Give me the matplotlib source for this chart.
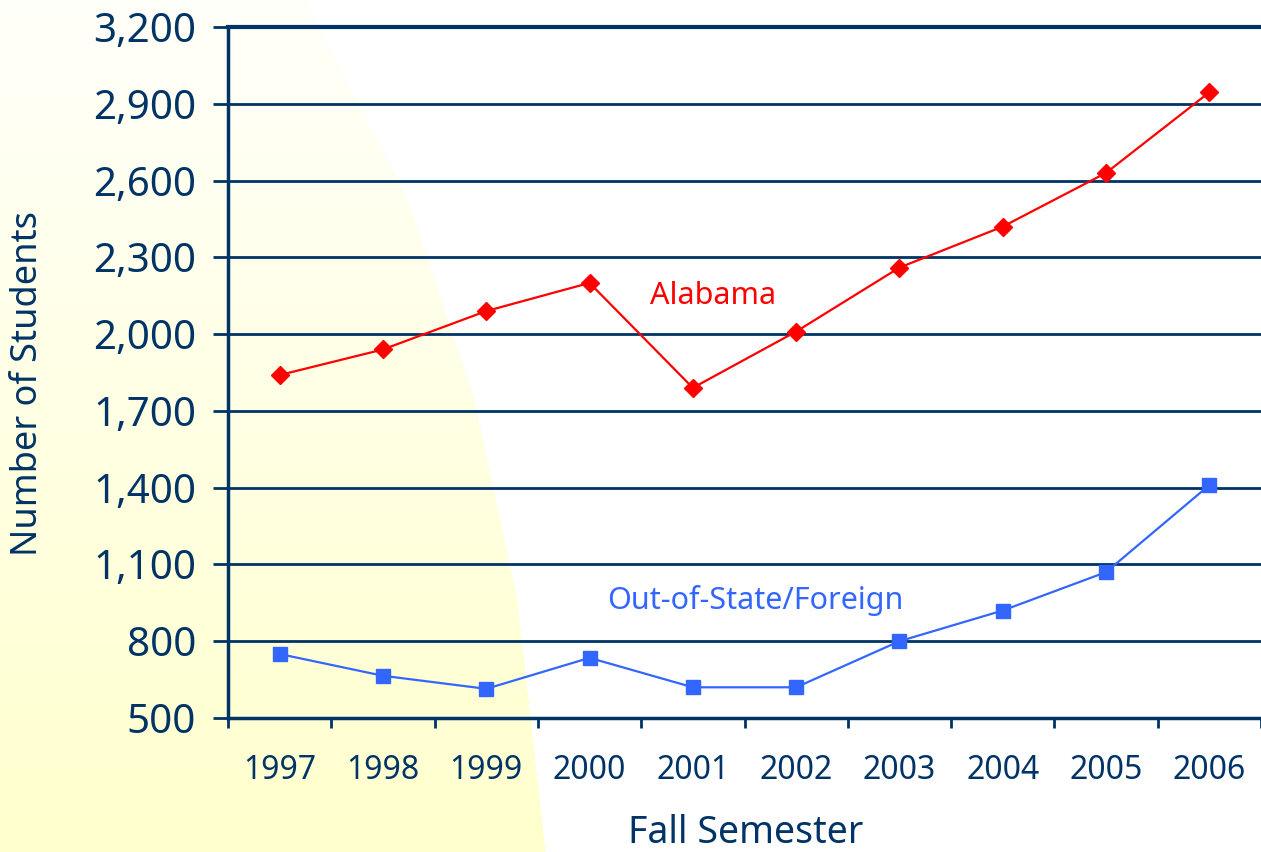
import matplotlib.pyplot as plt
import numpy as np

years = ['1997', '1998', '1999', '2000', '2001', '2002', '2003', '2004', '2005', '2006']
alabama = [1840, 1940, 2090, 2200, 1790, 2010, 2260, 2420, 2630, 2945]
out_of_state = [750, 665, 614, 735, 620, 620, 800, 920, 1070, 1410]
y_ticks = [500, 800, 1100, 1400, 1700, 2000, 2300, 2600, 2900, 3200]

navy = '#003366'
plt.rcParams['font.family'] = ['Noto Sans', 'DejaVu Sans']
plt.rcParams['font.weight'] = 'light'

W, H = 1261, 852
fig = plt.figure(figsize=(W / 100, H / 100), dpi=100)

# yellow wedge on the left of the slide
bg = fig.add_axes([0, 0, 1, 1], zorder=-10)
yy, xx = np.mgrid[0:H, 0:W]
edge = np.interp(yy, [0, 200, 400, 600, 852], [305, 408, 474, 517, 545])
t = yy / H
img = np.ones((H, W, 3))
img[..., 2] = np.where(xx < edge, (250 - 45 * t) / 255, 1.0)
bg.imshow(img, aspect='auto', extent=[0, W, H, 0])
bg.axis('off')

ax = fig.add_axes([228 / W, 1 - 718 / H, 1 - 228 / W, (718 - 27) / H])
ax.patch.set_alpha(0)
x = np.arange(len(years))

ax.plot(x, alabama, color='#FF0000', lw=1.6, marker='D', ms=9, zorder=5)
ax.plot(x, out_of_state, color='#3366FF', lw=1.6, marker='s', ms=10, zorder=5)

ax.set_xlim(-0.5, len(years) - 0.5)
ax.set_ylim(500, 3200)
ax.set_yticks(y_ticks)
ax.set_yticklabels([f'{v:,}' for v in y_ticks])
ax.set_xticks(x)
ax.set_xticklabels(years)
ax.set_xticks(np.arange(-0.5, len(years), 1), minor=True)
ax.tick_params(axis='x', which='major', length=0, pad=26, labelsize=23, colors=navy)
ax.tick_params(axis='x', which='minor', length=7, width=2, color=navy)
ax.tick_params(axis='y', length=11, width=2, color=navy, labelsize=29, labelcolor=navy, pad=12)

ax.grid(axis='y', color=navy, lw=2)
for s in ['top', 'right']:
    ax.spines[s].set_visible(False)
ax.spines['left'].set_color(navy)
ax.spines['left'].set_linewidth(2.5)
ax.spines['bottom'].set_color(navy)
ax.spines['bottom'].set_linewidth(2.5)
ax.axhline(3200, color=navy, lw=3, clip_on=False)

ax.text(4.2, 2150, 'Alabama', color='#FF0000', fontsize=22, ha='center', va='center')
ax.text(4.6, 960, 'Out-of-State/Foreign', color='#3366FF', fontsize=22, ha='center', va='center')

fig.text(746 / W, 1 - 833 / H, 'Fall Semester', color=navy, fontsize=27, ha='center', va='center')
fig.text(28 / W, 1 - 383 / H, 'Number of Students', color=navy, fontsize=26, rotation=90,
         ha='center', va='center')

fig.savefig('out.png', dpi=100)
